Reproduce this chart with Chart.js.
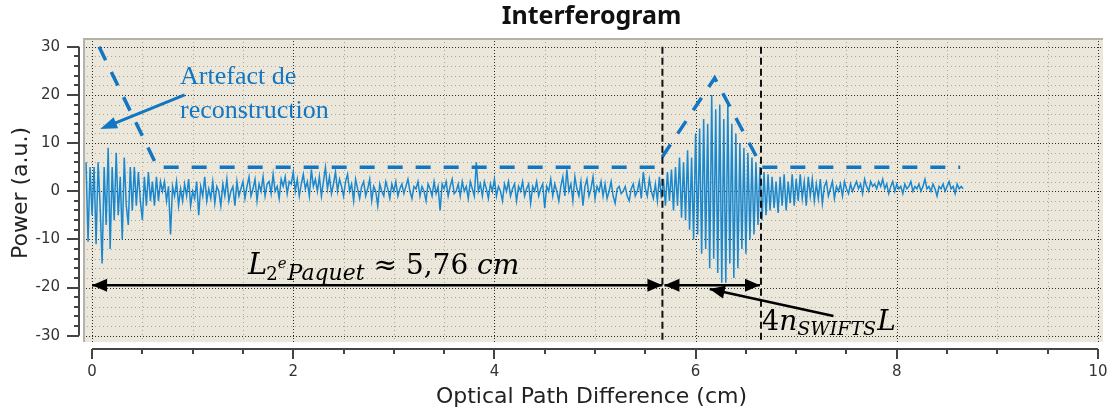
<!DOCTYPE html>
<html>
<head>
<meta charset="utf-8">
<script src="https://cdn.jsdelivr.net/npm/chart.js@4.4.1/dist/chart.umd.min.js"></script>
<style>
  html, body { margin: 0; padding: 0; background: #fff; }
</style>
</head>
<body>
<canvas id="chart" width="1113" height="416"></canvas>
<script>
// --- data ---
// reconstruction artefact, x = -0.06 .. 0.68 cm, step 0.02
const artefactStart = -0.06, artefactStep = 0.02;
const artefactY = [
  6, -10.5, 5, -5, 5, -11, 6, -3, -15, 5,
  -7, 9, -12, 5, -6, 8, -5, 3, -10, 7,
  -3, -7, 5, -4, 5, -3, 4, -2, -6, 3,
  -3, 4, -2, 2, -3, 3, -2, 2
];
// background noise, x = 0.70 .. 5.58 cm, step 0.02
const noiseStart = 0.70, noiseStep = 0.02;
const noiseY = [
  0, 2, -2, 1, -9, 1, -1, 2, -3, 0.5,
  -2, 1.5, -1, 2.5, -3, 0, -1.5, 2, -5, 1,
  -1, 3, -2, 0.5, -1.5, 2, -2.5, 1, 0, -3,
  1.5, -1, 2.5, -2, 0, 1, -3, 2, -1, 0.5,
  2, -1.5, 1, 3, -1, 0.5, 2.5, -2, 1.5, 0,
  3, -1, 1.5, 2, -0.5, 3.5, 0, 1, -1.5, 2.5,
  1, 3, -0.5, 2, 1.5, 4, 0, 2.5, -1, 1.5,
  3.5, 0.5, 2, -1, 4.5, 1, 2.5, 0, 3, -1,
  2, 5, 0.5, 3, -0.5, 1.5, 4, 0, 2.5, 1,
  -1, 2, 3.5, 0, 1.5, -2, 2.5, 0.5, -1.5, 1,
  2, -1, 0.5, 2.5, -2, 1, 0, -3, 1.5, 0,
  -1, 2, 0.5, -1.5, 1.5, 0, 2, -1, 0.5, 1.5,
  -0.5, 1, 2.5, 0, -1.5, 1, 0.5, 2, -1, 1,
  0, -2, 1.5, 0.5, -1, 2, -0.5, 1, -4, 1.5,
  0.5, 2, -1, 1, 2.5, -0.5, 0, 1.5, -1, 2,
  0, 1, -1.5, 2, 0.5, -1, 6, 0, 1.5, -1,
  2, 0.5, -1.5, 1.5, 0, 2.5, -1, 1, 0, -2,
  1.5, 0, 2, -1, 0.5, 1.5, -2, 1, 0, 2,
  -1, 0.5, 1.5, -2.5, 1, 0, 2, -1, 0.5, 1.5,
  -3.5, 1, 0, 2.5, -1, 1.5, 0, -2, 1, 3,
  -1, 4.5, 0, 1.5, -2, 3, 0.5, -1, 2, -3,
  1, 2.5, -1, 0.5, 3, -1.5, 1, 0, 2, -1,
  1.5, -1.5, 0, 2, -1, -2.5, 0.5, 1, -0.5, 0,
  1, -1, -2, 0.5, 1.5, -1, 0, 2, -1.5, 4,
  0.5, -1, 2.5, 0, -1.5
];
// second wave packet, x = 5.60 .. 6.80 cm, step 0.02
const packetStart = 5.60, packetStep = 0.02;
const packetY = [
  1.5, -2, 3, -1.5, 2.5, -3, 4, -2, 4.5, -4,
  5, -3, 7, -5.5, 6, -6, 8.5, -8, 7, -10,
  12, -9, 13, -13, 15, -12, 14, -16, 20, -14,
  17, -17, 18, -19, 15, -19, 18, -15, 14, -18,
  12, -16, 10, -12, 9, -13, 8, -10, 7, -9,
  6, -7, 5, -6, 4, -5, 3.5, -4, 3, -3.5,
  2
];
// decaying tail, x = 6.82 .. 8.66 cm, step 0.02
const tailStart = 6.82, tailStep = 0.02;
const tailY = [
  -4.5, 3, -3, 3.5, -4, 2, -2.5, 3.5, -3, 2.5,
  -2, 3.5, -1.5, 2, -3, 3, -1, 2.5, -2, 1.5,
  -1.5, 2.5, -2.5, 1, 2, -1, 0.5, 2, -1.5, 1,
  0, 1.5, -1, 2, 0.5, -0.5, 1.5, 0, 1, 2,
  0.5, 1.5, -0.5, 2.5, 1, 0, 2, 1, 1.5, 0.5,
  2, 1, 2.5, 0.5, 1.5, -0.5, 1, 2, 0, 1.5,
  0.5, 1, -0.5, 1.5, 0.5, 1, 2, 0, 1, 0.5,
  1.5, 0, 1, 2.5, 0.5, 1, 0, 1.5, 0.5, -1,
  1, 0.5, 1.5, 0, 1, 2, 0.5, 1, -0.5, 1.5,
  0.5, 1, 0.5
];
// dashed envelope drawn over the interferogram
const envelopeX = [0.07, 0.65, 5.60, 6.19, 6.66, 8.63];
const envelopeY = [30, 5, 5, 23.5, 5, 5];
// packet limits (black dashed verticals)
const markerX = [5.67, 6.65];
// tick labels
const xTickLabels = [0, 2, 4, 6, 8, 10];
const yTickLabels = [-30, -20, -10, 0, 10, 20, 30];

// --- scale ranges ---
const X_MIN = -0.12, X_MAX = 10.05;
const Y_MIN = -32.55, Y_MAX = 31.81;
// beige plotting area (a bit inside the axes)
const PLOT = { x0: -0.09, x1: 10.05, y0: -31.3, y1: 31.81 };

// annotations, in data units
const arrowsBlack = [
  { from: [0, -19.5], to: [5.67, -19.5], both: true },
  { from: [5.69, -19.5], to: [6.64, -19.5], both: true },
  { from: [7.37, -25.9], to: [6.14, -20.3], both: false }
];
const arrowBlue = { from: [0.92, 20], to: [0.08, 12.9] };

const BLUE = '#1a88cf';
const DASH_BLUE = '#1276c2';

function seg(start, step, ys) {
  return ys.map((y, i) => ({ x: +(start + i * step).toFixed(3), y }));
}
const signal = [
  ...seg(artefactStart, artefactStep, artefactY),
  ...seg(noiseStart, noiseStep, noiseY),
  ...seg(packetStart, packetStep, packetY),
  ...seg(tailStart, tailStep, tailY)
];

// background, grid, axes
const frame = {
  id: 'frame',
  beforeDatasetsDraw(chart) {
    const { ctx, scales: { x, y } } = chart;
    const l = x.getPixelForValue(PLOT.x0), r = x.getPixelForValue(PLOT.x1);
    const t = y.getPixelForValue(PLOT.y1), b = y.getPixelForValue(PLOT.y0);
    ctx.save();
    ctx.fillStyle = '#ebe7da';
    ctx.fillRect(l, t, r - l, b - t);
    // grid
    ctx.lineWidth = 1;
    for (let v = 0; v <= 10.001; v += 0.5) {
      const major = Math.abs(v % 2) < 1e-6;
      const px = Math.round(x.getPixelForValue(v)) + 0.5;
      ctx.strokeStyle = major ? '#2a2a2a' : '#a9a699';
      ctx.setLineDash(major ? [1, 2] : [1, 3]);
      ctx.beginPath(); ctx.moveTo(px, t); ctx.lineTo(px, b); ctx.stroke();
    }
    for (let v = -30; v <= 30; v += 2) {
      const major = v % 10 === 0;
      const py = Math.round(y.getPixelForValue(v)) + 0.5;
      ctx.strokeStyle = major ? '#2a2a2a' : '#a9a699';
      ctx.setLineDash(major ? [1, 2] : [1, 3]);
      ctx.beginPath(); ctx.moveTo(l, py); ctx.lineTo(r, py); ctx.stroke();
    }
    ctx.setLineDash([]);
    // bevel on top and left
    ctx.strokeStyle = '#b5b2a6';
    ctx.lineWidth = 2;
    ctx.beginPath(); ctx.moveTo(l, t + 1); ctx.lineTo(r, t + 1); ctx.stroke();
    ctx.beginPath(); ctx.moveTo(l + 1, t); ctx.lineTo(l + 1, b); ctx.stroke();
    ctx.restore();
  },
  afterDraw(chart) {
    const { ctx, chartArea, scales: { x, y } } = chart;
    ctx.save();
    ctx.strokeStyle = '#444';
    ctx.lineWidth = 2;
    // x axis
    const ay = chartArea.bottom + 1;
    ctx.beginPath();
    ctx.moveTo(x.getPixelForValue(0), ay); ctx.lineTo(x.getPixelForValue(10), ay);
    for (let v = 0; v <= 10.001; v += 0.5) {
      const px = Math.round(x.getPixelForValue(v));
      const len = Math.abs(v % 2) < 1e-6 ? 10 : 5;
      ctx.moveTo(px, ay); ctx.lineTo(px, ay + len);
    }
    ctx.stroke();
    // y axis
    const ax = chartArea.left - 1;
    ctx.beginPath();
    ctx.moveTo(ax, y.getPixelForValue(30)); ctx.lineTo(ax, y.getPixelForValue(-30));
    for (let v = -30; v <= 30; v += 2) {
      const py = Math.round(y.getPixelForValue(v));
      const len = v % 10 === 0 ? 12 : 5;
      ctx.moveTo(ax, py); ctx.lineTo(ax - len, py);
    }
    ctx.stroke();
    ctx.restore();
  }
};

function arrowHead(ctx, x1, y1, x2, y2, len, half) {
  const a = Math.atan2(y2 - y1, x2 - x1);
  ctx.beginPath();
  ctx.moveTo(x2, y2);
  ctx.lineTo(x2 - len * Math.cos(a) + half * Math.sin(a), y2 - len * Math.sin(a) - half * Math.cos(a));
  ctx.lineTo(x2 - len * Math.cos(a) - half * Math.sin(a), y2 - len * Math.sin(a) + half * Math.cos(a));
  ctx.closePath();
  ctx.fill();
}

function drawRuns(ctx, x0, y0, runs) {
  let cx = x0;
  runs.forEach(r => {
    ctx.font = r.font;
    ctx.fillText(r.t, cx, y0 + r.dy);
    cx += ctx.measureText(r.t).width + (r.gap || 0);
  });
}

// arrows and labels
const notes = {
  id: 'notes',
  afterDatasetsDraw(chart) {
    const { ctx, scales: { x, y } } = chart;
    const P = (p) => [x.getPixelForValue(p[0]), y.getPixelForValue(p[1])];
    ctx.save();
    // black arrows
    ctx.strokeStyle = '#000';
    ctx.fillStyle = '#000';
    ctx.lineWidth = 2.5;
    arrowsBlack.forEach(a => {
      const [x1, y1] = P(a.from), [x2, y2] = P(a.to);
      ctx.beginPath(); ctx.moveTo(x1, y1); ctx.lineTo(x2, y2); ctx.stroke();
      arrowHead(ctx, x1, y1, x2, y2, 15, 6.5);
      if (a.both) arrowHead(ctx, x2, y2, x1, y1, 15, 6.5);
    });
    // blue arrow
    {
      const [x1, y1] = P(arrowBlue.from), [x2, y2] = P(arrowBlue.to);
      ctx.strokeStyle = DASH_BLUE; ctx.fillStyle = DASH_BLUE;
      ctx.lineWidth = 3;
      ctx.beginPath(); ctx.moveTo(x1, y1); ctx.lineTo(x2 + 10, y2 - 4); ctx.stroke();
      arrowHead(ctx, x1, y1, x2, y2, 17, 6);
    }
    // blue text
    ctx.fillStyle = DASH_BLUE;
    ctx.textBaseline = 'alphabetic';
    ctx.textAlign = 'left';
    ctx.font = '26px "Liberation Serif"';
    let [tx, ty] = P([0.875, 22.3]);
    ctx.fillText('Artefact de', tx, ty);
    [tx, ty] = P([0.875, 15.3]);
    ctx.fillText('reconstruction', tx, ty);
    // math labels
    ctx.fillStyle = '#000';
    const serif = '"DejaVu Serif"';
    [tx, ty] = P([1.55, -17.1]);
    drawRuns(ctx, tx, ty, [
      { t: 'L', font: `italic 29px ${serif}`, dy: 0, gap: -1 },
      { t: '2', font: `18px ${serif}`, dy: 6 },
      { t: 'e', font: `italic 15px ${serif}`, dy: -6, gap: 1 },
      { t: 'Paquet', font: `italic 22px ${serif}`, dy: 6 },
      { t: ' \u2248 5,76 ', font: `28px ${serif}`, dy: 0 },
      { t: 'cm', font: `italic 28px ${serif}`, dy: 0 }
    ]);
    [tx, ty] = P([6.66, -28.9]);
    drawRuns(ctx, tx, ty, [
      { t: '4', font: `27px ${serif}`, dy: 0 },
      { t: 'n', font: `italic 28px ${serif}`, dy: 0 },
      { t: 'SWIFTS', font: `italic 19px ${serif}`, dy: 5, gap: 1 },
      { t: 'L', font: `italic 28px ${serif}`, dy: 0 }
    ]);
    ctx.restore();
  }
};

const markerSets = markerX.map(mx => ({
  data: [{ x: mx, y: 30 }, { x: mx, y: PLOT.y0 }],
  borderColor: '#111',
  borderWidth: 2,
  borderDash: [7, 4],
  pointRadius: 0
}));

new Chart(document.getElementById('chart'), {
  type: 'line',
  data: {
    datasets: [
      ...markerSets,
      {
        data: envelopeX.map((v, i) => ({ x: v, y: envelopeY[i] })),
        borderColor: DASH_BLUE,
        borderWidth: 3.5,
        borderDash: [15, 13],
        pointRadius: 0
      },
      {
        data: signal,
        borderColor: BLUE,
        borderWidth: 1.5,
        pointRadius: 0,
        tension: 0
      }
    ]
  },
  options: {
    responsive: false,
    animation: false,
    layout: { padding: { right: 10 } },
    plugins: {
      legend: { display: false },
      tooltip: { enabled: false },
      title: {
        display: true,
        fullSize: false,
        text: 'Interferogram',
        color: '#111',
        font: { family: 'Noto Sans', weight: 'bold', size: 25, lineHeight: 1.2 },
        padding: { top: 2, bottom: 6 }
      }
    },
    scales: {
      x: {
        type: 'linear',
        min: X_MIN, max: X_MAX,
        afterBuildTicks: s => { s.ticks = xTickLabels.map(v => ({ value: v })); },
        afterFit: s => { s.height = 68; s.paddingLeft = 0; s.paddingRight = 0; },
        grid: { display: false, drawTicks: false },
        border: { display: false },
        ticks: {
          autoSkip: false, maxRotation: 0, padding: 15, color: '#333',
          font: { family: 'DejaVu Sans', size: 15 }
        },
        title: {
          display: true, text: 'Optical Path Difference (cm)', color: '#222',
          font: { family: 'DejaVu Sans', size: 22 }, padding: { bottom: 6 }
        }
      },
      y: {
        type: 'linear',
        min: Y_MIN, max: Y_MAX,
        afterBuildTicks: s => { s.ticks = yTickLabels.map(v => ({ value: v })); },
        afterFit: s => { s.width = 80; },
        grid: { display: false, drawTicks: false },
        border: { display: false },
        ticks: {
          autoSkip: false, padding: 20, color: '#333',
          font: { family: 'DejaVu Sans', size: 15 }
        },
        title: {
          display: true, text: 'Power (a.u.)', color: '#222',
          font: { family: 'DejaVu Sans', size: 22 }, padding: { top: 8 }
        }
      }
    }
  },
  plugins: [frame, notes]
});
</script>
</body>
</html>
